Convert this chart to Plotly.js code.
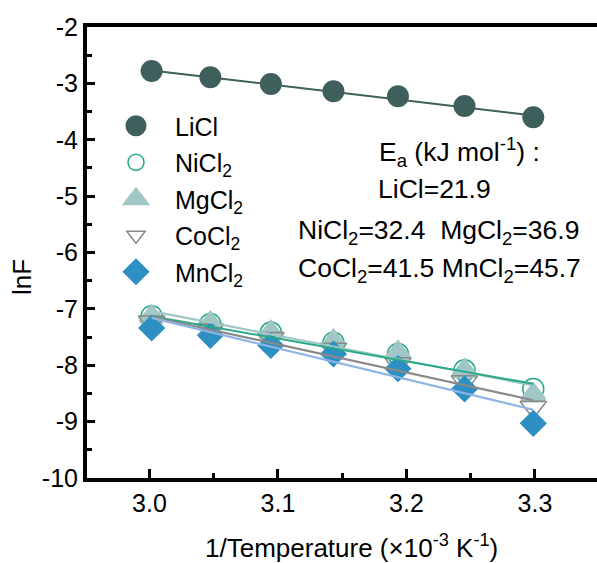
<!DOCTYPE html>
<html>
<head>
<meta charset="utf-8">
<script src="https://cdn.plot.ly/plotly-3.0.1.min.js"></script>
<style>html,body{margin:0;padding:0;background:#fff;}#chart{width:597px;height:563px;}</style>
</head>
<body>
<div id="chart"></div>
<script>
// 1/T values (x 10^-3 K^-1)
var invT = [3.0017, 3.0474, 3.0945, 3.1432, 3.1934, 3.2452, 3.2987];
// lnF values
var LiCl  = [-2.78, -2.89, -3.01, -3.14, -3.23, -3.40, -3.60];
var NiCl2 = [-7.13, -7.27, -7.42, -7.60, -7.80, -8.09, -8.42];
var MgCl2 = [-7.14, -7.26, -7.42, -7.58, -7.78, -8.10, -8.53];
var CoCl2 = [-7.23, -7.37, -7.52, -7.71, -7.97, -8.29, -8.74];
var MnCl2 = [-7.34, -7.47, -7.65, -7.80, -8.06, -8.42, -9.03];
// linear fit end points
var fitX    = [3.0017, 3.2987];
var fitLiCl = [-2.77, -3.57];
var fitNi   = [-7.13, -8.33];
var fitMg   = [-7.04, -8.36];
var fitCo   = [-7.14, -8.62];
var fitMn   = [-7.16, -8.79];
// tick labels
var xTickVals = [3.0, 3.1, 3.2, 3.3];
var xTickText = ['3.0', '3.1', '3.2', '3.3'];
var xMinorVals = [3.05, 3.15, 3.25];
var yTickVals = [-10, -9, -8, -7, -6, -5, -4, -3, -2];
var yTickText = ['-10', '-9', '-8', '-7', '-6', '-5', '-4', '-3', '-2'];
var yMinorVals = [-9.5, -8.5, -7.5, -6.5, -5.5, -4.5, -3.5, -2.5];
var seriesNames = ['LiCl', 'NiCl<sub>2</sub>', 'MgCl<sub>2</sub>', 'CoCl<sub>2</sub>', 'MnCl<sub>2</sub>'];
var eaLines = ['E<sub>a</sub> (kJ mol<sup>-1</sup>) :', 'LiCl=21.9',
  'NiCl<sub>2</sub>=32.4\u00a0\u00a0MgCl<sub>2</sub>=36.9',
  'CoCl<sub>2</sub>=41.5 MnCl<sub>2</sub>=45.7'];
var xTitle = '1/Temperature (\u00d710<sup>-3</sup> K<sup>-1</sup>)';
var yTitle = 'lnF';

var FONT = 'Liberation Sans, Arial, sans-serif';
var cLi = '#3e5f5b', cNi = '#2aa88a', cMg = '#a0c7c5', cCo = '#898989', cMn = '#2d8fc2', cMnLine = '#8db4e2';

var traces = [
  {x: invT, y: LiCl, name: seriesNames[0], mode: 'markers', legendgroup: 'a',
   marker: {symbol: 'circle', size: 17, color: cLi, line: {color: cLi, width: 5}}},
  {x: invT, y: NiCl2, name: seriesNames[1], mode: 'markers', legendgroup: 'b',
   marker: {symbol: 'circle-open', size: 21, color: cNi, line: {color: cNi, width: 1.5}}},
  {x: invT, y: MgCl2, name: seriesNames[2], mode: 'markers', legendgroup: 'c',
   marker: {symbol: 'triangle-up', size: 19, color: cMg, line: {color: cMg, width: 5}}},
  {x: invT, y: CoCl2, name: seriesNames[3], mode: 'markers', legendgroup: 'd',
   marker: {symbol: 'triangle-down-open', size: 23, color: cCo, line: {color: cCo, width: 1.5}}},
  {x: invT, y: MnCl2, name: seriesNames[4], mode: 'markers', legendgroup: 'e',
   marker: {symbol: 'diamond', size: 16, color: cMn, line: {color: cMn, width: 4.5}}},
  {x: fitX, y: fitLiCl, mode: 'lines', showlegend: false, line: {color: cLi, width: 2}},
  {x: fitX, y: fitMg, mode: 'lines', showlegend: false, line: {color: cMg, width: 2.2}},
  {x: fitX, y: fitNi, mode: 'lines', showlegend: false, line: {color: cNi, width: 2}},
  {x: fitX, y: fitCo, mode: 'lines', showlegend: false, line: {color: cCo, width: 2.2}},
  {x: fitX, y: fitMn, mode: 'lines', showlegend: false, line: {color: cMnLine, width: 2.2}}
];

var L = 87, R = 0, T = 27, B = 85, W = 597, H = 563;
var pw = W - L - R, ph = H - T - B;
function px(X) { return (X - L) / pw; }
function py(Y) { return 1 - (Y - T) / ph; }

function ann(text, X, Y, xa, size, extra) {
  var a = {text: text, x: px(X), y: py(Y), xanchor: xa, yanchor: 'middle',
           xref: 'paper', yref: 'paper', showarrow: false,
           font: {family: FONT, size: size, color: '#000'}};
  if (extra) for (var k in extra) a[k] = extra[k];
  return a;
}
var annotations = [
  ann(eaLines[0], 377, 152, 'left', 26.5),
  ann(eaLines[1], 376, 189, 'left', 26.5),
  ann(eaLines[2], 296, 232, 'left', 26.5),
  ann(eaLines[3], 296, 270, 'left', 26.5),
  ann(xTitle, 351, 546, 'center', 26),
  ann(yTitle, 22, 277, 'center', 26, {textangle: -90})
];

var layout = {
  width: W, height: H,
  margin: {l: L, r: R, t: T, b: B, pad: 0},
  paper_bgcolor: '#fff', plot_bgcolor: '#fff',
  font: {family: FONT, size: 25, color: '#000'},
  showlegend: true,
  legend: {x: px(97), y: py(103), xanchor: 'left', yanchor: 'top', bgcolor: 'rgba(0,0,0,0)',
           font: {family: FONT, size: 25, color: '#000'}, tracegroupgap: 1, itemwidth: 68},
  xaxis: {range: [2.9514, 3.3483], showgrid: false, zeroline: false,
          showline: true, linecolor: '#000', linewidth: 4, mirror: true,
          ticks: 'inside', ticklen: 9, tickwidth: 3, tickcolor: '#000',
          tickmode: 'array', tickvals: xTickVals, ticktext: xTickText,
          minor: {ticks: 'inside', ticklen: 5, tickwidth: 3, tickcolor: '#000', tickvals: xMinorVals, showgrid: false},
          tickfont: {family: FONT, size: 25, color: '#000'}},
  yaxis: {range: [-10, -2], showgrid: false, zeroline: false,
          showline: true, linecolor: '#000', linewidth: 4, mirror: false,
          ticks: 'inside', ticklen: 8, tickwidth: 3, tickcolor: '#000',
          tickmode: 'array', tickvals: yTickVals, ticktext: yTickText,
          minor: {ticks: 'inside', ticklen: 4.5, tickwidth: 3, tickcolor: '#000', tickvals: yMinorVals, showgrid: false},
          tickfont: {family: FONT, size: 25, color: '#000'}},
  annotations: annotations
};

Plotly.newPlot('chart', traces, layout, {displayModeBar: false, staticPlot: true});
</script>
</body>
</html>
